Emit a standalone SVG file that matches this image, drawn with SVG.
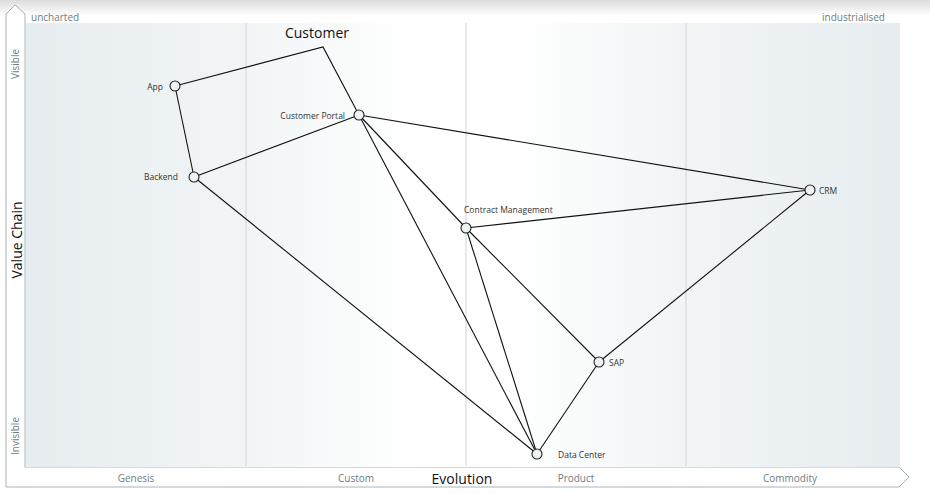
<svg xmlns="http://www.w3.org/2000/svg" width="930" height="494" viewBox="0 0 930 494">
<defs>
<linearGradient id="topband" x1="0" y1="0" x2="0" y2="1">
<stop offset="0" stop-color="#dcdcdc"/>
<stop offset="1" stop-color="#ffffff"/>
</linearGradient>
<linearGradient id="plot" x1="0" y1="0" x2="1" y2="0">
<stop offset="0" stop-color="#e6edf0"/>
<stop offset="0.25" stop-color="#f1f5f6"/>
<stop offset="0.45" stop-color="#ffffff"/>
<stop offset="0.55" stop-color="#ffffff"/>
<stop offset="0.75" stop-color="#f1f5f6"/>
<stop offset="1" stop-color="#e6edf0"/>
</linearGradient>
</defs>
<style>
.axis{fill:#6f7d82;font-family:"Open Sans","Liberation Sans",sans-serif;font-size:10px}
.title{fill:#111;font-family:"Open Sans","Liberation Sans",sans-serif;font-size:14px}
.lbl{fill:#333;font-family:"Open Sans","Liberation Sans",sans-serif;font-size:8.5px}
.div{stroke:#c9d6da;stroke-width:1}
.edge{stroke:#111;stroke-width:1.1;fill:none}
.node{fill:#eef2f4;stroke:#222;stroke-width:1.1}
</style>
<rect x="0" y="0" width="930" height="494" fill="#fff"/>
<rect x="0" y="0" width="930" height="16" fill="url(#topband)"/>
<path d="M6,14 L15,5 L25,14 L25,467 L899,467 L909,477 L899,487 L6,487 Z" fill="#fff" stroke="#a9b3b6" stroke-width="1"/>
<rect x="26" y="23" width="874" height="444" fill="url(#plot)"/>
<line class="div" x1="246" y1="23" x2="246" y2="466"/>
<line class="div" x1="466" y1="23" x2="466" y2="466"/>
<line class="div" x1="686" y1="23" x2="686" y2="466"/>
<text class="axis" x="31" y="21">uncharted</text>
<text class="axis" x="885" y="21" text-anchor="end">industrialised</text>
<text class="axis" transform="translate(19,64) rotate(-90)" text-anchor="middle">Visible</text>
<text class="axis" transform="translate(19,436) rotate(-90)" text-anchor="middle">Invisible</text>
<text class="title" transform="translate(22,240) rotate(-90)" text-anchor="middle">Value Chain</text>
<text class="axis" x="136" y="482" text-anchor="middle">Genesis</text>
<text class="axis" x="356" y="482" text-anchor="middle">Custom</text>
<text class="axis" x="576" y="482" text-anchor="middle">Product</text>
<text class="axis" x="790" y="482" text-anchor="middle">Commodity</text>
<text class="title" x="462" y="484" text-anchor="middle">Evolution</text>
<text class="title" x="317" y="38" text-anchor="middle" font-size="15">Customer</text>
<g id="connectors">
<polyline class="edge" points="175,86 323,47 359,115"/>
<line class="edge" x1="175" y1="86" x2="194" y2="177"/>
<line class="edge" x1="194" y1="177" x2="359" y2="115"/>
<line class="edge" x1="359" y1="115" x2="810" y2="190"/>
<line class="edge" x1="359" y1="115" x2="466" y2="228"/>
<line class="edge" x1="359" y1="115" x2="537" y2="454"/>
<line class="edge" x1="466" y1="228" x2="810" y2="190"/>
<line class="edge" x1="466" y1="228" x2="537" y2="454"/>
<line class="edge" x1="466" y1="228" x2="599" y2="362"/>
<line class="edge" x1="599" y1="362" x2="810" y2="190"/>
<line class="edge" x1="599" y1="362" x2="537" y2="454"/>
<line class="edge" x1="194" y1="177" x2="537" y2="454"/>
</g>
<g id="app"><circle class="node" cx="175" cy="86" r="5"/><text class="lbl" x="163" y="90" text-anchor="end">App</text></g>
<g id="customer-portal"><circle class="node" cx="359" cy="115" r="5"/><text class="lbl" x="345" y="119" text-anchor="end">Customer Portal</text></g>
<g id="backend"><circle class="node" cx="194" cy="177" r="5"/><text class="lbl" x="178" y="180" text-anchor="end">Backend</text></g>
<g id="crm"><circle class="node" cx="810" cy="190" r="5"/><text class="lbl" x="819" y="194">CRM</text></g>
<g id="contract-management"><circle class="node" cx="466" cy="228" r="5"/><text class="lbl" x="464" y="213">Contract Management</text></g>
<g id="sap"><circle class="node" cx="599" cy="362" r="5"/><text class="lbl" x="609" y="366">SAP</text></g>
<g id="data-center"><circle class="node" cx="537" cy="454" r="5"/><text class="lbl" x="558" y="458">Data Center</text></g>
</svg>
